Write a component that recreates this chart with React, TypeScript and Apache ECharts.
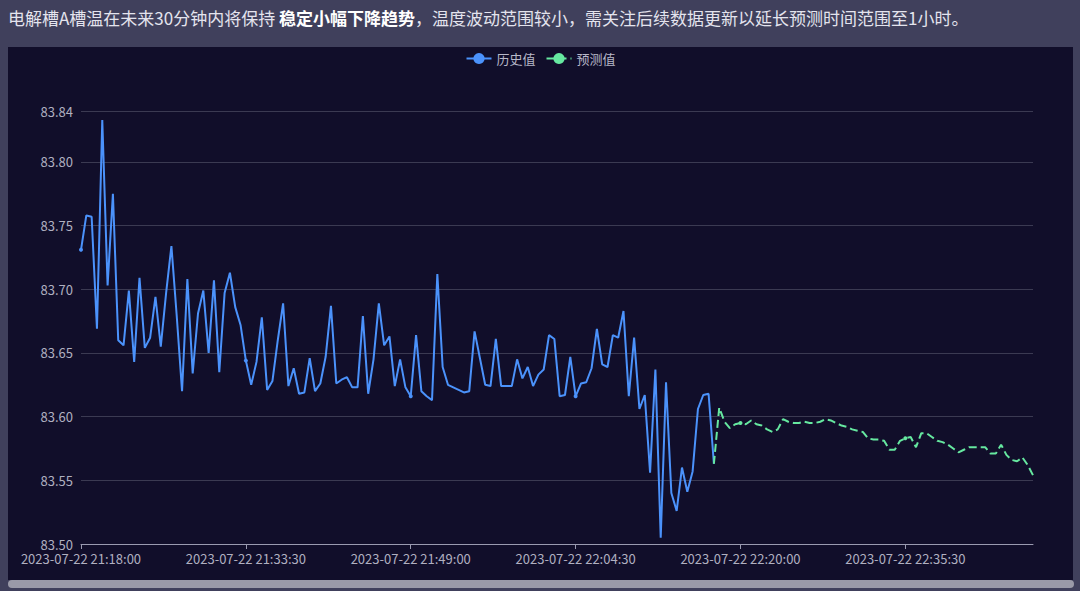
import React, { useEffect, useRef } from 'react';
import * as echarts from 'echarts';

const datePrefix = '2023-07-22';
const startSeconds = 21 * 3600 + 18 * 60;
const stepSeconds = 30;
const pointCount = 180;

const historyValues = [
  83.731, 83.758, 83.757, 83.669, 83.833, 83.703, 83.775, 83.660, 83.656, 83.699,
  83.643, 83.709, 83.654, 83.662, 83.694, 83.655, 83.697, 83.734, 83.679, 83.620,
  83.708, 83.634, 83.681, 83.699, 83.650, 83.707, 83.635, 83.697, 83.713, 83.686,
  83.672, 83.644, 83.625, 83.643, 83.678, 83.621, 83.628, 83.660, 83.689, 83.624,
  83.638, 83.618, 83.619, 83.646, 83.620, 83.626, 83.647, 83.687, 83.626, 83.629,
  83.631, 83.623, 83.623, 83.679, 83.618, 83.645, 83.689, 83.656, 83.663, 83.624,
  83.645, 83.623, 83.616, 83.664, 83.620, 83.616, 83.613, 83.712, 83.639, 83.625,
  83.623, 83.621, 83.619, 83.620, 83.667, 83.646, 83.625, 83.624, 83.661, 83.624,
  83.624, 83.624, 83.645, 83.630, 83.639, 83.624, 83.633, 83.637, 83.664, 83.661,
  83.616, 83.617, 83.647, 83.616, 83.626, 83.627, 83.638, 83.669, 83.641, 83.639,
  83.664, 83.662, 83.683, 83.616, 83.662, 83.606, 83.617, 83.556, 83.637, 83.505,
  83.627, 83.540, 83.526, 83.560, 83.541, 83.557, 83.606, 83.617, 83.618, 83.563,
];

const forecastStartIndex = 119;
const forecastValues = [
  83.563, 83.607, 83.596, 83.591, 83.594, 83.595, 83.594, 83.597, 83.594, 83.593,
  83.590, 83.588, 83.590, 83.598, 83.596, 83.595, 83.595, 83.596, 83.595, 83.595,
  83.596, 83.598, 83.597, 83.595, 83.593, 83.592, 83.590, 83.589, 83.588, 83.583,
  83.582, 83.582, 83.581, 83.574, 83.574, 83.581, 83.583, 83.584, 83.576, 83.587,
  83.587, 83.584, 83.581, 83.580, 83.578, 83.575, 83.572, 83.574, 83.576, 83.576,
  83.576, 83.576, 83.571, 83.571, 83.578, 83.570, 83.566, 83.565, 83.568, 83.562,
  83.554,
];

const seriesNames = ['历史值', '预测值'];
const yMin = 83.5;
const yMax = 83.84;
const yInterval = 0.05;

const pad = (n: number) => String(n).padStart(2, '0');
const categories: string[] = [];
for (let i = 0; i < pointCount; i++) {
  const s = startSeconds + i * stepSeconds;
  const h = Math.floor(s / 3600);
  const m = Math.floor((s % 3600) / 60);
  const sec = s % 60;
  categories.push(`${datePrefix} ${pad(h)}:${pad(m)}:${pad(sec)}`);
}

const FONT = '"Noto Sans CJK SC", "Noto Sans", sans-serif';

export default function App() {
  const ref = useRef<HTMLDivElement>(null);

  useEffect(() => {
    if (!ref.current) return;
    const chart = echarts.init(ref.current, null, { renderer: 'svg' });
    const forecastData: (number | null)[] = new Array(forecastStartIndex).fill(null).concat(forecastValues);
    chart.setOption({
      animation: false,
      backgroundColor: 'transparent',
      textStyle: { fontFamily: FONT },
      legend: {
        data: seriesNames,
        top: 0,
        left: 'center',
        itemWidth: 25,
        itemHeight: 14,
        itemGap: 10,
        textStyle: { color: '#b8b8c8', fontSize: 13, fontFamily: FONT },
      },
      grid: { left: 73, right: 40, top: 64, bottom: 36, containLabel: false },
      xAxis: {
        type: 'category',
        data: categories,
        boundaryGap: false,
        axisLine: { lineStyle: { color: '#9a9ab0', width: 1 } },
        axisTick: { show: true, interval: 30, lineStyle: { color: '#9a9ab0' } },
        axisLabel: { interval: 30, color: '#b0b0c0', fontSize: 13, fontFamily: FONT, margin: 8 },
        splitLine: { show: false },
      },
      yAxis: {
        type: 'value',
        min: yMin,
        max: yMax,
        interval: yInterval,
        axisLine: { show: false },
        axisTick: { show: false },
        axisLabel: {
          color: '#b0b0c0',
          fontSize: 13,
          fontFamily: FONT,
          formatter: (v: number) => v.toFixed(2),
        },
        splitLine: { lineStyle: { color: '#3b3a52', width: 1 } },
      },
      series: [
        {
          name: seriesNames[0],
          type: 'line',
          data: historyValues,
          symbol: 'circle',
          symbolSize: 4,
          showSymbol: true,
          lineStyle: { color: '#4b92fb', width: 2 },
          itemStyle: { color: '#4b92fb' },
        },
        {
          name: seriesNames[1],
          type: 'line',
          data: forecastData,
          symbol: 'circle',
          symbolSize: 4,
          showSymbol: true,
          lineStyle: { color: '#66e8a0', width: 2, type: 'dashed' },
          itemStyle: { color: '#66e8a0' },
        },
      ],
    });
    return () => chart.dispose();
  }, []);

  return (
    <div style={{ position: 'fixed', left: 0, top: 0, width: 1080, height: 591, background: '#40405c', overflow: 'hidden' }}>
      <div
        style={{
          position: 'absolute',
          left: 8,
          top: 5,
          lineHeight: '26px',
          fontSize: 17,
          color: '#e4e4ee',
          fontFamily: FONT,
          whiteSpace: 'nowrap',
        }}
      >
        电解槽A槽温在未来30分钟内将保持 <b style={{ color: '#ffffff' }}>稳定小幅下降趋势</b>，温度波动范围较小，需关注后续数据更新以延长预测时间范围至1小时。
      </div>
      <div style={{ position: 'absolute', left: 8, top: 47, width: 1065, height: 533, background: '#110e2a' }}>
        <div ref={ref} style={{ width: 1065, height: 533 }} />
      </div>
      <div style={{ position: 'absolute', left: 8, top: 580, width: 1066, height: 8, borderRadius: 4, background: '#9a9aa8' }} />
    </div>
  );
}
